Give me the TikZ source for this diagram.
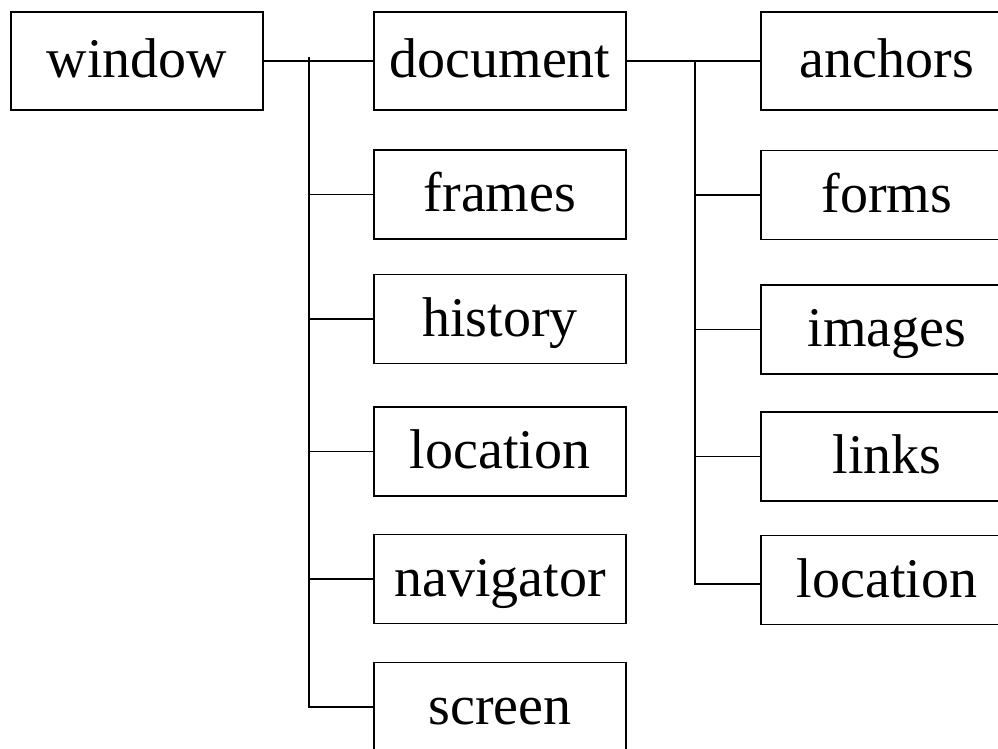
\documentclass[tikz,border=0pt]{standalone}
\usepackage{fontspec}
\setmainfont{Liberation Serif}
\usepackage{tikz}
\usetikzlibrary{positioning}
\tikzset{
  obj/.style={draw, line width=1.4pt, minimum width=252pt, minimum height=89pt,
    inner sep=0pt, font=\fontsize{56}{60}\selectfont, text height=38pt, text depth=4pt},
  topobj/.style={obj, minimum height=98pt},
  link/.style={line width=1.4pt}
}

\begin{document}
\begin{tikzpicture}[x=1pt, y=-1pt]

  \useasboundingbox (0,0) rectangle (998,749);
  \clip (0,0) rectangle (998,749);

  %% first level
  \node[topobj] (window) at (137,61) {window};
  \node[topobj] (document) at (500,61) {document};
  \node[topobj] (anchors) at (887,61) {anchors};

  %% children of window
  \node[obj] (frames) at (500,194.5) {frames};
  \node[obj] (history) at (500,319) {history};
  \node[obj] (location) at (500,451.5) {location};
  \node[obj] (navigator) at (500,579) {navigator};
  \node[obj] (screen) at (500,707) {screen};

  %% children of document
  \node[obj] (forms) at (887,195) {forms};
  \node[obj] (images) at (887,329.5) {images};
  \node[obj] (links) at (887,456.5) {links};
  \node[obj] (doclocation) at (887,580) {location};

  \coordinate (j1) at (309,57);
  \coordinate (j2) at (695,61);

  \draw[link] (window.east) -- (document.west);
  \draw[link] (j1) |- (screen.west); %% trunk
  \draw[link] (j1 |- frames.west) -- (frames.west);
  \draw[link] (j1 |- history.west) -- (history.west);
  \draw[link] (j1 |- location.west) -- (location.west);
  \draw[link] (j1 |- navigator.west) -- (navigator.west);

  \draw[link] (document.east) -- (anchors.west);
  \draw[link] (j2) |- ([yshift=-4pt]doclocation.west); %% trunk
  \draw[link] (j2 |- forms.west) -- (forms.west);
  \draw[link] (j2 |- images.west) -- (images.west);
  \draw[link] (j2 |- links.west) -- (links.west);

\end{tikzpicture}
\end{document}
